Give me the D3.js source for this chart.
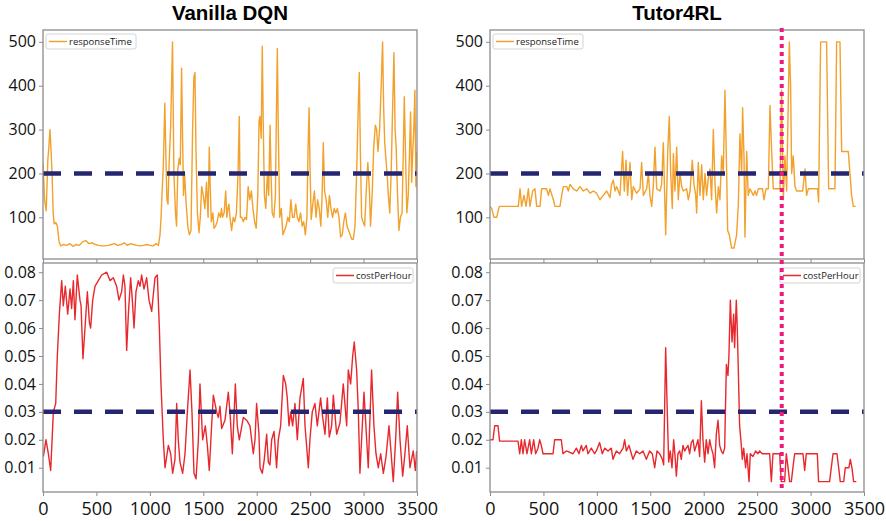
<!DOCTYPE html>
<html><head><meta charset="utf-8">
<script src="https://cdn.jsdelivr.net/npm/d3@7"></script>
<style>html,body{margin:0;padding:0;background:#fff;}svg{display:block;}</style>
</head><body>
<svg id="chart" width="886" height="521"></svg>
<script>
// ---- data ----
const titles = ["Vanilla DQN", "Tutor4RL"];
const xTicks = [0, 500, 1000, 1500, 2000, 2500, 3000, 3500];
const rtTicks = [100, 200, 300, 400, 500];
const costTicks = [0.01, 0.02, 0.03, 0.04, 0.05, 0.06, 0.07, 0.08];
const rtThreshold = 200;
const costThreshold = 0.03;
const tutorSwitchStep = 2730;

const dqnResponse = [[0,225],[15,140],[30,115],[45,230],[55,260],[65,300],[75,255],[85,200],[95,110],[105,85],[120,88],[135,80],[150,45],[165,35],[190,38],[220,36],[250,40],[280,34],[310,38],[340,36],[370,44],[400,47],[430,40],[460,42],[490,38],[520,36],[550,35],[580,35],[610,36],[640,38],[670,40],[700,36],[730,38],[760,42],[790,36],[820,40],[850,38],[880,36],[910,35],[940,36],[970,38],[1000,36],[1030,35],[1060,40],[1080,36],[1095,60],[1105,100],[1115,160],[1125,210],[1140,360],[1150,240],[1160,140],[1170,130],[1180,220],[1195,310],[1212,500],[1225,200],[1240,110],[1250,80],[1262,210],[1275,235],[1285,220],[1297,440],[1305,300],[1315,150],[1325,200],[1340,130],[1355,80],[1370,60],[1385,70],[1400,300],[1412,420],[1422,430],[1432,250],[1445,110],[1460,65],[1472,100],[1485,170],[1500,150],[1515,120],[1530,180],[1545,100],[1556,260],[1565,170],[1575,90],[1590,110],[1600,75],[1615,80],[1630,90],[1645,110],[1660,100],[1670,120],[1680,100],[1695,110],[1710,160],[1720,100],[1730,120],[1740,130],[1750,100],[1765,70],[1780,100],[1795,90],[1810,110],[1825,200],[1837,330],[1847,100],[1860,100],[1875,90],[1890,100],[1905,95],[1920,170],[1935,140],[1950,160],[1965,120],[1980,90],[1995,75],[2010,150],[2022,320],[2030,330],[2042,280],[2052,490],[2062,300],[2072,150],[2085,120],[2100,200],[2112,150],[2125,310],[2135,190],[2145,110],[2160,100],[2175,150],[2185,350],[2193,485],[2202,300],[2215,100],[2230,120],[2245,60],[2260,70],[2275,80],[2290,100],[2305,90],[2320,140],[2335,100],[2350,100],[2365,130],[2380,100],[2395,90],[2410,110],[2425,80],[2440,90],[2455,60],[2470,100],[2480,250],[2490,350],[2500,200],[2510,95],[2525,130],[2540,160],[2555,100],[2570,140],[2585,120],[2600,80],[2612,150],[2623,270],[2635,160],[2650,140],[2665,100],[2680,150],[2695,120],[2710,100],[2725,120],[2740,110],[2755,120],[2770,100],[2785,55],[2800,60],[2815,90],[2830,110],[2845,80],[2860,70],[2875,60],[2890,50],[2904,50],[2920,80],[2935,200],[2950,350],[2960,430],[2970,250],[2982,100],[2995,90],[3010,80],[3025,160],[3040,225],[3055,160],[3065,80],[3080,150],[3095,260],[3110,310],[3122,300],[3135,250],[3150,300],[3165,400],[3178,500],[3188,350],[3198,270],[3210,230],[3220,200],[3232,150],[3245,110],[3258,200],[3270,330],[3284,475],[3295,300],[3305,260],[3318,150],[3331,70],[3345,100],[3360,110],[3372,250],[3381,375],[3392,250],[3405,110],[3418,150],[3430,250],[3440,340],[3450,180],[3460,250],[3470,300],[3480,390],[3490,170],[3500,250]];

const dqnCost = [[3,0.014],[28,0.02],[50,0.015],[72,0.009],[97,0.03],[119,0.033],[134,0.05],[153,0.065],[175,0.077],[190,0.068],[209,0.075],[231,0.065],[253,0.074],[268,0.067],[284,0.077],[299,0.063],[321,0.079],[346,0.07],[356,0.068],[374,0.049],[393,0.06],[415,0.073],[434,0.062],[446,0.06],[465,0.07],[487,0.075],[518,0.077],[549,0.079],[596,0.08],[627,0.077],[658,0.078],[689,0.075],[711,0.07],[736,0.073],[752,0.079],[767,0.075],[783,0.052],[799,0.065],[820,0.078],[836,0.07],[852,0.06],[870,0.073],[892,0.077],[908,0.075],[923,0.079],[945,0.074],[970,0.078],[992,0.07],[1017,0.066],[1048,0.078],[1070,0.079],[1089,0.06],[1104,0.04],[1126,0.02],[1142,0.01],[1173,0.018],[1195,0.015],[1213,0.008],[1235,0.013],[1251,0.033],[1266,0.02],[1282,0.012],[1307,0.008],[1329,0.015],[1351,0.03],[1376,0.045],[1394,0.03],[1413,0.008],[1432,0.006],[1454,0.02],[1469,0.04],[1494,0.02],[1519,0.025],[1538,0.018],[1556,0.009],[1578,0.025],[1594,0.036],[1625,0.03],[1641,0.028],[1656,0.032],[1672,0.024],[1703,0.027],[1734,0.037],[1750,0.03],[1772,0.015],[1787,0.028],[1800,0.04],[1818,0.025],[1837,0.02],[1875,0.028],[1906,0.027],[1937,0.025],[1968,0.015],[1984,0.02],[1999,0.033],[2021,0.022],[2031,0.01],[2052,0.008],[2071,0.013],[2093,0.022],[2109,0.012],[2124,0.011],[2140,0.02],[2162,0.023],[2186,0.01],[2202,0.02],[2224,0.025],[2249,0.043],[2271,0.04],[2286,0.035],[2302,0.025],[2318,0.03],[2336,0.025],[2358,0.033],[2380,0.02],[2405,0.035],[2436,0.042],[2452,0.025],[2483,0.01],[2498,0.02],[2520,0.03],[2545,0.033],[2567,0.025],[2598,0.035],[2617,0.028],[2639,0.022],[2661,0.035],[2679,0.021],[2701,0.025],[2717,0.036],[2748,0.022],[2779,0.026],[2810,0.04],[2842,0.025],[2857,0.045],[2879,0.04],[2898,0.05],[2913,0.055],[2935,0.045],[2951,0.03],[2966,0.008],[2988,0.025],[3004,0.037],[3029,0.02],[3044,0.01],[3075,0.045],[3097,0.025],[3116,0.015],[3138,0.01],[3160,0.015],[3185,0.008],[3210,0.014],[3238,0.025],[3278,0.005],[3300,0.02],[3319,0.037],[3341,0.02],[3366,0.007],[3387,0.015],[3409,0.025],[3434,0.01],[3465,0.016],[3484,0.009],[3497,0.016]];

const tutorResponse = [[0,125],[16,120],[37,100],[62,100],[87,125],[265,125],[281,165],[296,125],[318,150],[337,125],[359,165],[374,125],[399,160],[421,165],[437,125],[468,125],[483,165],[530,165],[546,150],[561,165],[593,140],[608,125],[655,125],[671,150],[686,170],[717,170],[733,160],[749,175],[780,165],[811,160],[842,170],[873,160],[905,165],[936,155],[967,160],[998,155],[1029,140],[1061,150],[1092,160],[1123,145],[1138,175],[1154,185],[1170,160],[1185,170],[1216,150],[1241,250],[1257,160],[1273,230],[1288,150],[1310,225],[1326,140],[1341,170],[1372,155],[1404,165],[1419,225],[1435,150],[1466,165],[1482,200],[1497,150],[1513,125],[1528,170],[1544,260],[1560,165],[1591,160],[1606,175],[1622,270],[1644,60],[1663,250],[1678,330],[1691,200],[1706,120],[1716,245],[1731,160],[1747,260],[1762,140],[1778,200],[1794,170],[1809,160],[1840,165],[1856,140],[1872,160],[1893,230],[1909,175],[1925,150],[1934,110],[1949,225],[1965,150],[1981,220],[1996,140],[2012,200],[2027,150],[2043,190],[2059,210],[2074,140],[2090,300],[2105,180],[2121,110],[2137,170],[2152,140],[2168,240],[2183,200],[2199,390],[2215,200],[2224,70],[2240,60],[2261,30],[2283,30],[2308,60],[2324,130],[2339,290],[2355,200],[2364,350],[2377,240],[2386,55],[2402,250],[2417,150],[2433,165],[2464,150],[2480,160],[2495,150],[2511,165],[2551,165],[2564,140],[2583,165],[2605,165],[2620,355],[2636,250],[2651,165],[2714,165],[2729,390],[2745,140],[2760,240],[2776,160],[2792,370],[2801,500],[2813,400],[2823,200],[2838,240],[2854,170],[2870,160],[2926,160],[2948,210],[2963,150],[2979,165],[3066,165],[3075,135],[3094,500],[3150,500],[3169,165],[3228,165],[3244,500],[3275,500],[3291,250],[3353,250],[3384,150],[3400,125],[3422,125]];

const tutorCost = [[3,0.02],[28,0.02],[44,0.025],[75,0.025],[90,0.0195],[262,0.0195],[278,0.015],[293,0.02],[309,0.015],[324,0.02],[346,0.015],[371,0.02],[387,0.015],[409,0.02],[427,0.015],[449,0.017],[465,0.02],[480,0.018],[496,0.015],[590,0.015],[605,0.02],[667,0.02],[683,0.015],[714,0.016],[777,0.015],[808,0.017],[833,0.015],[855,0.018],[870,0.016],[901,0.018],[917,0.015],[948,0.017],[979,0.015],[995,0.016],[1026,0.019],[1051,0.015],[1073,0.017],[1104,0.016],[1135,0.017],[1151,0.013],[1182,0.016],[1213,0.015],[1245,0.017],[1260,0.02],[1276,0.016],[1301,0.018],[1323,0.015],[1338,0.013],[1369,0.016],[1401,0.015],[1432,0.016],[1463,0.013],[1494,0.016],[1519,0.015],[1541,0.01],[1563,0.016],[1588,0.015],[1613,0.013],[1625,0.011],[1644,0.053],[1659,0.03],[1672,0.012],[1687,0.016],[1703,0.01],[1719,0.02],[1734,0.013],[1744,0.007],[1759,0.015],[1775,0.016],[1790,0.013],[1806,0.018],[1822,0.016],[1837,0.017],[1853,0.018],[1868,0.015],[1884,0.019],[1900,0.02],[1915,0.016],[1931,0.018],[1946,0.02],[1962,0.014],[1978,0.034],[1993,0.02],[2009,0.012],[2024,0.02],[2040,0.015],[2056,0.02],[2071,0.017],[2087,0.015],[2102,0.01],[2118,0.022],[2134,0.027],[2149,0.018],[2165,0.016],[2180,0.015],[2196,0.017],[2212,0.047],[2227,0.043],[2236,0.05],[2249,0.07],[2265,0.055],[2280,0.065],[2289,0.053],[2305,0.07],[2314,0.06],[2327,0.04],[2336,0.025],[2352,0.018],[2361,0.013],[2374,0.017],[2392,0.01],[2405,0.015],[2424,0.005],[2436,0.015],[2461,0.014],[2486,0.016],[2508,0.015],[2523,0.016],[2548,0.015],[2617,0.015],[2633,0.005],[2648,0.015],[2711,0.015],[2726,0.005],[2757,0.005],[2773,0.015],[2789,0.01],[2804,0.005],[2820,0.005],[2835,0.01],[2851,0.015],[2929,0.015],[2945,0.009],[2960,0.015],[3063,0.015],[3075,0.005],[3178,0.005],[3194,0.01],[3210,0.015],[3247,0.015],[3263,0.01],[3278,0.005],[3310,0.005],[3325,0.01],[3359,0.01],[3372,0.013],[3387,0.01],[3403,0.005],[3428,0.005]];

// ---- layout ----
const svg = d3.select("#chart");
const cols = [{x0: 43, x1: 417}, {x0: 490, x1: 864}];
const topRow = {y0: 30, y1: 259};
const botRow = {y0: 263, y1: 492};
const rtColor = "#f2a12c", costColor = "#e8282d";
const frameColor = "#8c8c8c";
const tickFont = "'Open Sans', 'DejaVu Sans', sans-serif";

const panels = [
  {col: 0, row: topRow, data: dqnResponse, dom: [5, 527], ticks: rtTicks, fmt: d3.format("d"), color: rtColor, label: "responseTime", legendLeft: true, thr: rtThreshold, xlabels: false},
  {col: 0, row: botRow, data: dqnCost, dom: [0.0013, 0.0833], ticks: costTicks, fmt: d3.format(".2f"), color: costColor, label: "costPerHour", legendLeft: false, thr: costThreshold, xlabels: true},
  {col: 1, row: topRow, data: tutorResponse, dom: [5, 527], ticks: rtTicks, fmt: d3.format("d"), color: rtColor, label: "responseTime", legendLeft: true, thr: rtThreshold, xlabels: false},
  {col: 1, row: botRow, data: tutorCost, dom: [0.0013, 0.0833], ticks: costTicks, fmt: d3.format(".2f"), color: costColor, label: "costPerHour", legendLeft: false, thr: costThreshold, xlabels: true}
];

panels.forEach((p, i) => {
  const c = cols[p.col];
  const x = d3.scaleLinear().domain([0, 3500]).range([c.x0, c.x1]);
  const y = d3.scaleLinear().domain(p.dom).range([p.row.y1, p.row.y0]);
  const g = svg.append("g");
  const clipId = "clip" + i;
  svg.append("clipPath").attr("id", clipId).append("rect")
    .attr("x", c.x0).attr("y", p.row.y0).attr("width", c.x1 - c.x0).attr("height", p.row.y1 - p.row.y0);

  // data line
  g.append("path").datum(p.data)
    .attr("clip-path", `url(#${clipId})`)
    .attr("fill", "none").attr("stroke", p.color).attr("stroke-width", 1.4)
    .attr("stroke-linejoin", "round")
    .attr("d", d3.line().x(d => x(d[0])).y(d => y(d[1])));

  // threshold dashed line
  g.append("line")
    .attr("x1", c.x0).attr("x2", c.x1).attr("y1", y(p.thr)).attr("y2", y(p.thr))
    .attr("stroke", "#262670").attr("stroke-width", 4.5).attr("stroke-dasharray", "18,13");

  // frame
  g.append("rect").attr("x", c.x0).attr("y", p.row.y0)
    .attr("width", c.x1 - c.x0).attr("height", p.row.y1 - p.row.y0)
    .attr("fill", "none").attr("stroke", frameColor).attr("stroke-width", 1.3);

  // y axis
  const ya = g.append("g").attr("transform", `translate(${c.x0},0)`)
    .call(d3.axisLeft(y).tickValues(p.ticks).tickFormat(p.fmt).tickSize(4).tickPadding(3));
  ya.select(".domain").remove();
  ya.selectAll("line").attr("stroke", frameColor);
  ya.selectAll("text").attr("font-family", tickFont).attr("font-size", 16).attr("fill", "#111");

  // x axis
  const xa = g.append("g").attr("transform", `translate(0,${p.row.y1})`)
    .call(d3.axisBottom(x).tickValues(xTicks).tickFormat(p.xlabels ? d3.format("d") : "").tickSize(4).tickPadding(6));
  xa.select(".domain").remove();
  xa.selectAll("line").attr("stroke", frameColor);
  xa.selectAll("text").attr("font-family", tickFont).attr("font-size", 18).attr("fill", "#111");

  // legend
  const lw = p.legendLeft ? 90 : 80;
  const lx = p.legendLeft ? c.x0 + 3 : c.x1 - 4 - lw;
  const ly = p.row.y0 + (p.legendLeft ? 4 : 5);
  const lg = g.append("g");
  lg.append("rect").attr("x", lx).attr("y", ly).attr("width", lw).attr("height", 15)
    .attr("fill", "#fff").attr("fill-opacity", 0.85).attr("stroke", "#d4d4d4").attr("stroke-width", 1).attr("rx", 2);
  lg.append("line").attr("x1", lx + 3).attr("x2", lx + 21).attr("y1", ly + 7.5).attr("y2", ly + 7.5)
    .attr("stroke", p.color).attr("stroke-width", 1.5);
  lg.append("text").attr("x", lx + 23).attr("y", ly + 11)
    .attr("font-family", tickFont).attr("font-size", 9.5).attr("fill", "#222").text(p.label);
});

// titles
titles.forEach((t, i) => {
  svg.append("text").attr("x", (cols[i].x0 + cols[i].x1) / 2).attr("y", 20)
    .attr("text-anchor", "middle").attr("font-family", "'Liberation Sans', Arial, sans-serif")
    .attr("font-weight", "bold").attr("font-size", 20.5).attr("fill", "#000").text(t);
});

// Tutor4RL switch marker (pink dotted vertical line)
const xr = d3.scaleLinear().domain([0, 3500]).range([cols[1].x0, cols[1].x1]);
svg.append("line")
  .attr("x1", xr(tutorSwitchStep)).attr("x2", xr(tutorSwitchStep))
  .attr("y1", 28).attr("y2", 492)
  .attr("stroke", "#f0197d").attr("stroke-width", 4).attr("stroke-dasharray", "4,4");
</script>
</body></html>
